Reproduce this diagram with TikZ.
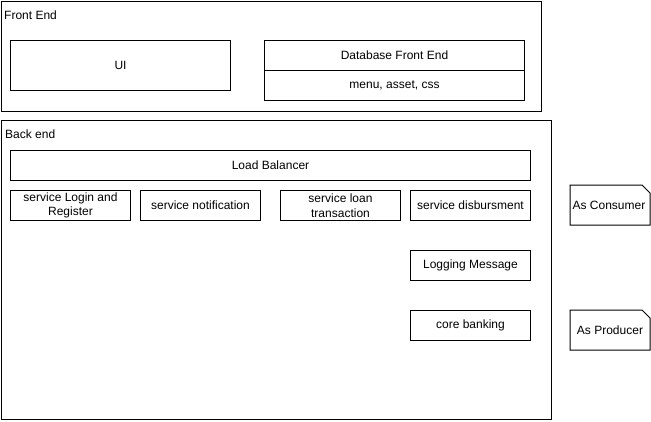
\documentclass[tikz,border=0pt]{standalone}
\usepackage{fontspec}
\setmainfont{Liberation Sans}
\begin{document}
\begin{tikzpicture}[x=1pt,y=-1pt,
  txt/.style={font=\fontsize{12}{14.5}\selectfont},
  box/.style={draw, line width=1pt, inner sep=0pt, align=center, txt, anchor=north west},
  lbl/.style={txt, anchor=west, inner sep=0pt},
  notebox/.style={line width=1pt}]
\useasboundingbox (0,0) rectangle (651,421);
% containers
\node[box, minimum width=540, minimum height=110] (fe) at (0.5,0.5) {};
\node[lbl] (felbl) at (4,15) {Front End};
\node[box, minimum width=550, minimum height=299] (be) at (0.5,120) {};
\node[lbl] (belbl) at (5,134) {Back end};
% front end
\node[box, minimum width=220, minimum height=50] (ui) at (10,40) {UI};
\node[box, minimum width=260, minimum height=30] (db) at (264,40) {Database Front End};
\node[box, minimum width=260, minimum height=30] (dbsub) at (264,70) {menu, asset, css};
% back end
\node[box, minimum width=520, minimum height=30] (lb) at (10,150) {Load Balancer};
\node[box, minimum width=120, minimum height=30] (login) at (10,190) {service Login and\\Register};
\node[box, minimum width=120, minimum height=30] (notif) at (140,190) {service notification};
\node[box, minimum width=120, minimum height=30] (loan) at (280,190) {service loan\\transaction};
\node[box, minimum width=120, minimum height=30] (disb) at (410,190) {service disbursment};
\node[box, minimum width=120, minimum height=30] (log) at (410,250) {Logging Message};
\node[box, minimum width=120, minimum height=30] (core) at (410,310) {core banking};
% notes
\draw[notebox] (570,185) -- (642,185) -- (650,193) -- (650,225) -- (570,225) -- cycle;
\node[txt, inner sep=0pt] (cons) at (609,205) {As Consumer};
\draw[notebox] (570,310) -- (642,310) -- (650,318) -- (650,350) -- (570,350) -- cycle;
\node[txt, inner sep=0pt] (prod) at (610,330) {As Producer};
\end{tikzpicture}
\end{document}
